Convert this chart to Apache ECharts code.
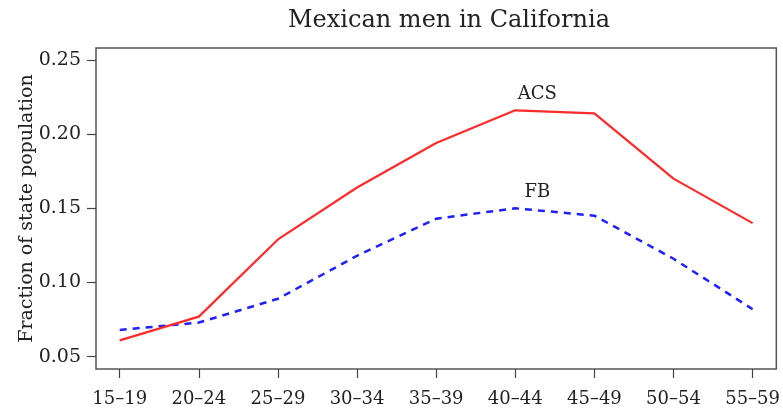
<!DOCTYPE html>
<html>
<head>
<meta charset="utf-8">
<script src="https://cdn.jsdelivr.net/npm/echarts@6/dist/echarts.min.js"></script>
<style>
  html, body { margin: 0; padding: 0; background: #fff; }
  #chart { width: 783px; height: 410px; }
</style>
</head>
<body>
<div id="chart"></div>
<script>
// Age groups along the x axis
const ageGroups = ['15–19', '20–24', '25–29', '30–34', '35–39', '40–44', '45–49', '50–54', '55–59'];
// Fraction of state population, ACS estimate
const acsValues = [0.061, 0.077, 0.129, 0.164, 0.194, 0.216, 0.214, 0.170, 0.140];
// Fraction of state population, FB estimate
const fbValues = [0.068, 0.073, 0.089, 0.118, 0.143, 0.150, 0.145, 0.116, 0.082];
// Y tick values
const yTicks = [0.05, 0.10, 0.15, 0.20, 0.25];
// Index of the point that carries each series name
const labelIndex = 5;

const font = 'DejaVu Serif';
const ink = '#222';

function withLabel(values, name) {
  return values.map((v, i) => {
    const item = { value: [i, v] };
    if (i === labelIndex) {
      item.label = {
        show: true,
        formatter: name,
        position: 'top',
        distance: 6,
        offset: [22, 0],
        fontFamily: font,
        fontSize: 18,
        color: ink
      };
    }
    return item;
  });
}

const hidden = 'rgba(0,0,0,0)';

const chart = echarts.init(document.getElementById('chart'));
chart.setOption({
  animation: false,
  title: {
    text: 'Mexican men in California',
    left: 444,
    top: 4,
    textAlign: 'center',
    textStyle: { fontFamily: font, fontSize: 24, fontWeight: 'normal', color: ink }
  },
  grid: {
    left: 96, top: 48, right: 2, bottom: 41,
    show: true, borderColor: '#555', borderWidth: 1.5, backgroundColor: '#fff'
  },
  xAxis: {
    type: 'value',
    min: -0.3,
    max: 8.3,
    axisLine: { show: false, onZero: false },
    splitLine: { show: false },
    axisTick: { show: true, length: 9, customValues: ageGroups.map((_, i) => i), lineStyle: { color: '#444', width: 1.2 } },
    axisLabel: {
      customValues: ageGroups.map((_, i) => i),
      formatter: v => ageGroups[Math.round(v)],
      margin: 21,
      fontFamily: font, fontSize: 18, color: ink
    }
  },
  yAxis: {
    type: 'value',
    min: 0.0417,
    max: 0.258,
    name: 'Fraction of state population',
    nameLocation: 'middle',
    nameGap: 59,
    nameMoveOverlap: false,
    nameTextStyle: { fontFamily: font, fontSize: 19, color: ink },
    axisLine: { show: false, onZero: false },
    splitLine: { show: false },
    axisTick: { show: true, length: 9, customValues: yTicks, lineStyle: { color: '#444', width: 1.2 } },
    axisLabel: {
      customValues: yTicks,
      formatter: v => v.toFixed(2),
      margin: 15,
      fontFamily: font, fontSize: 19, color: ink
    }
  },
  series: [
    {
      name: 'ACS',
      type: 'line',
      data: withLabel(acsValues, 'ACS'),
      showSymbol: true,
      symbol: 'circle',
      symbolSize: 1,
      itemStyle: { color: hidden, borderColor: hidden },
      lineStyle: { color: '#ff2a2a', width: 2.2 },
      z: 3
    },
    {
      name: 'FB',
      type: 'line',
      data: withLabel(fbValues, 'FB'),
      showSymbol: true,
      symbol: 'circle',
      symbolSize: 1,
      itemStyle: { color: hidden, borderColor: hidden },
      lineStyle: { color: '#2020ff', width: 2.5, type: [7, 6] },
      z: 2
    }
  ]
});
</script>
</body>
</html>
